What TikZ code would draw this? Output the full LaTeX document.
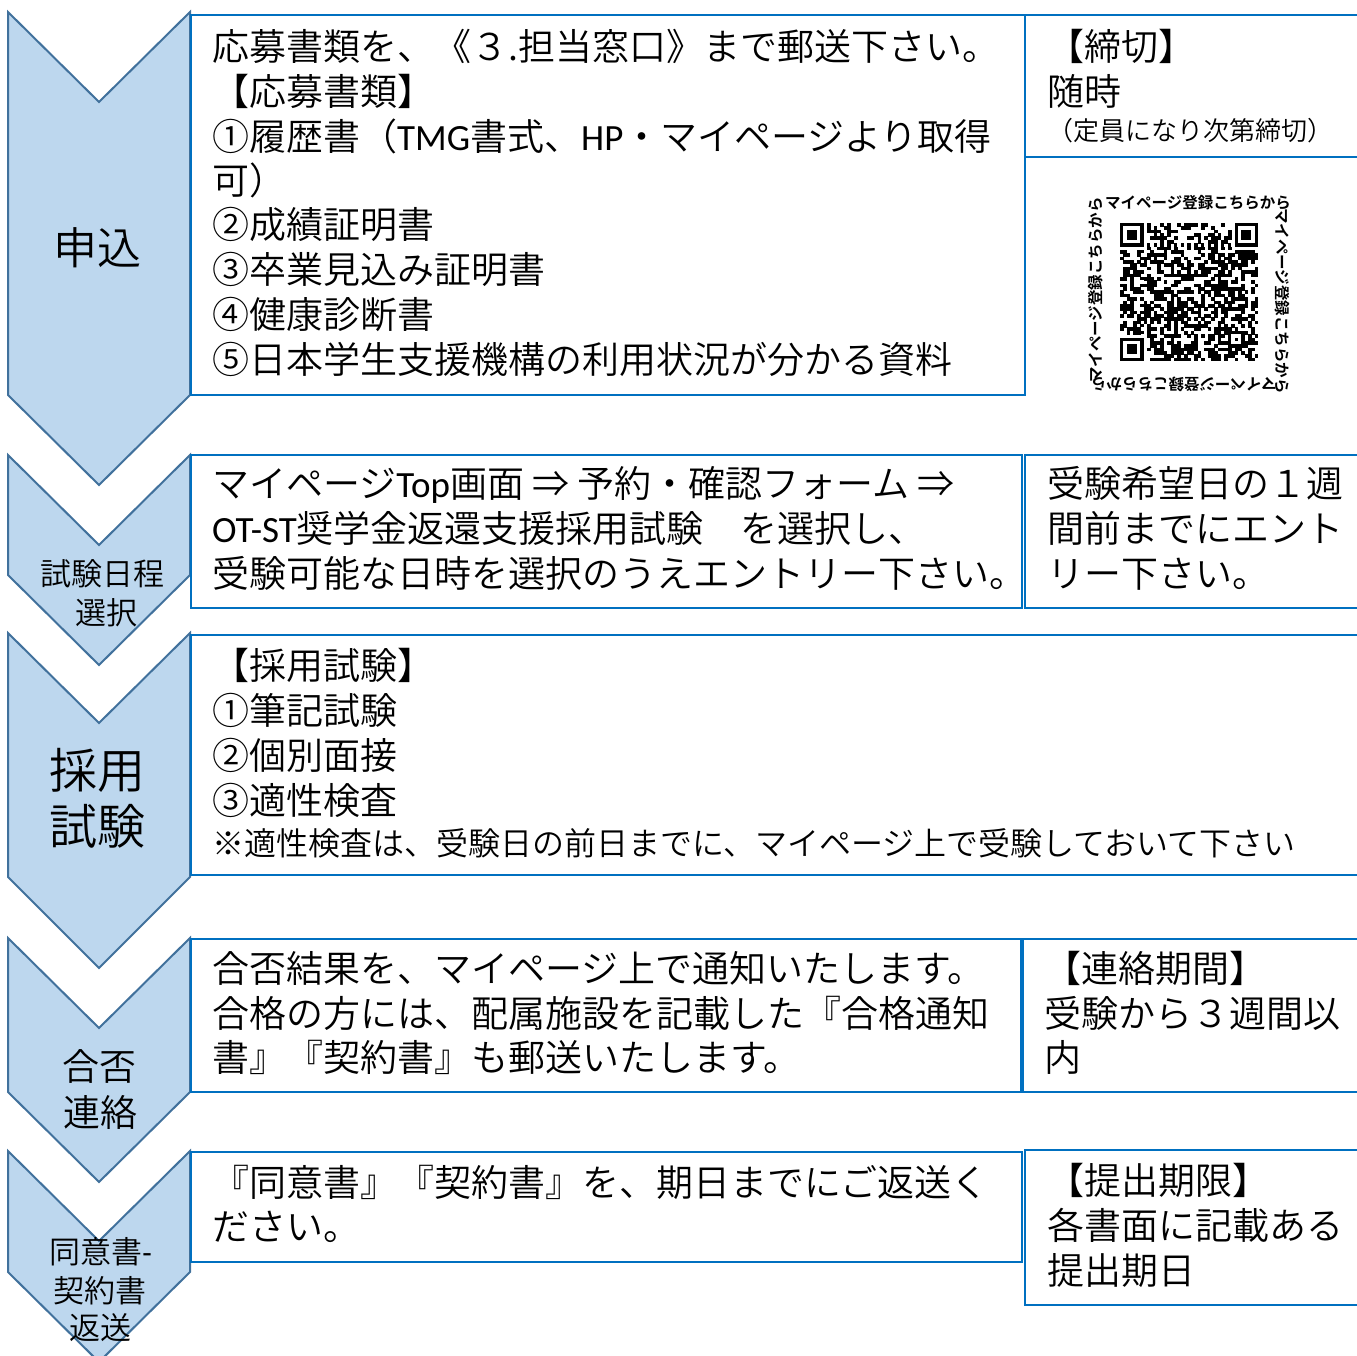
\documentclass[tikz,border=0pt]{standalone}
\usepackage{fontspec}
\setmainfont{Noto Sans CJK JP}[UprightFont={* DemiLight},BoldFont={* Bold}]
\newfontfamily\lat{Carlito}
\definecolor{chevfill}{HTML}{BDD7EE}
\definecolor{chevline}{HTML}{41719C}
\definecolor{boxline}{HTML}{0070C0}
\begin{document}
\begin{tikzpicture}[x=1pt,y=-1pt,
  chev/.style={fill=chevfill, draw=chevline, line width=2pt, line join=miter},
  frame/.style={draw=boxline, line width=2.2pt},
  body/.style={anchor=base west, inner sep=0pt, font=\fontsize{37}{40}\selectfont},
  small/.style={anchor=base west, inner sep=0pt, font=\fontsize{26}{30}\selectfont},
  note/.style={anchor=base west, inner sep=0pt, font=\fontsize{32}{36}\selectfont},
  lab/.style={anchor=base, inner sep=0pt},
  qrtxt/.style={inner sep=0pt, font=\bfseries\fontsize{15.5}{15.5}\selectfont},
]
\useasboundingbox (0,0) rectangle (1357,1355);
\fill[white] (0,0) rectangle (1357,1355);

% chevrons
\path[chev] (8,12) -- (99,102) -- (190,12) -- (190,395) -- (99,485) -- (8,395) -- cycle;
\path[chev] (8,455) -- (99,545) -- (190,455) -- (190,575) -- (99,665) -- (8,575) -- cycle;
\path[chev] (8,633) -- (99,723) -- (190,633) -- (190,877) -- (99,968) -- (8,877) -- cycle;
\path[chev] (8,938) -- (99,1028) -- (190,938) -- (190,1092) -- (99,1182) -- (8,1092) -- cycle;
\path[chev] (8,1151) -- (99,1241) -- (190,1151) -- (190,1272) -- (99,1362) -- (8,1272) -- cycle;

% boxes
\draw[frame] (191,15) rectangle (1025,395);
\draw[frame] (1025,15) rectangle (1375,157);
\draw[frame] (191,455) rectangle (1022,608);
\draw[frame] (1025,455) rectangle (1375,608);
\draw[frame] (191,635) rectangle (1375,875);
\draw[frame] (191,939) rectangle (1021,1092);
\draw[frame] (1023,939) rectangle (1375,1092);
\draw[frame] (191,1152) rectangle (1022,1262);
\draw[frame] (1025,1150) rectangle (1375,1305);

% chevron labels
\node[lab, font=\fontsize{44}{44}\selectfont] (l1) at (97,264) {申込};
\node[lab, font=\fontsize{31}{31}\selectfont] (l2a) at (102,585) {試験日程};
\node[lab, font=\fontsize{31}{31}\selectfont] (l2b) at (106,624) {選択};
\node[lab, font=\fontsize{48}{48}\selectfont] (l3a) at (97,788) {採用};
\node[lab, font=\fontsize{48}{48}\selectfont] (l3b) at (97,844) {試験};
\node[lab, font=\fontsize{37}{37}\selectfont] (l4a) at (99,1080) {合否};
\node[lab, font=\fontsize{37}{37}\selectfont] (l4b) at (100,1126) {連絡};
\node[lab, font=\fontsize{31}{31}\selectfont] (l5a) at (100.5,1263) {同意書{\lat -}};
\node[lab, font=\fontsize{31}{31}\selectfont] (l5b) at (100,1302) {契約書};
\node[lab, font=\fontsize{31}{31}\selectfont] (l5c) at (100,1339) {返送};

% box 1
\node[body] (b1a) at (212,60) {応募書類を、《３.担当窓口》まで郵送下さい。};
\node[body] (b1b) at (212,105) {【応募書類】};
\node[body] (b1c) at (212,150) {①履歴書（{\lat TMG}書式、{\lat HP}・マイページより取得};
\node[body] (b1d) at (212,194) {可）};
\node[body] (b1e) at (212,238) {②成績証明書};
\node[body] (b1f) at (212,283) {③卒業見込み証明書};
\node[body] (b1g) at (212,328) {④健康診断書};
\node[body] (b1h) at (212,373) {⑤日本学生支援機構の利用状況が分かる資料};

% deadline box
\node[body] (r1a) at (1047,60) {【締切】};
\node[body] (r1b) at (1047,105) {随時};
\node[small] (r1c) at (1047,140) {（定員になり次第締切）};

% QR code (pattern)
\def\m{3.37}
\pgfmathsetseed{7}
\foreach \i in {0,...,40}{
  \foreach \j in {0,...,40}{
    \pgfmathrandominteger{\r}{0}{1}
    \pgfmathtruncatemacro{\sk}{((\i<8)&&(\j<8))||((\i>32)&&(\j<8))||((\i<8)&&(\j>32))||(\i==6)||(\j==6)||((\i>31)&&(\i<37)&&(\j>31)&&(\j<37))}
    \ifnum\r=1 \ifnum\sk=0
      \fill (1120+\i*\m, 223+\j*\m) rectangle ++(\m+0.3,\m+0.3);
    \fi\fi
  }}
\foreach \k in {8,10,...,32}{
  \fill (1120+\k*\m, 223+6*\m) rectangle ++(\m,\m);
  \fill (1120+6*\m, 223+\k*\m) rectangle ++(\m,\m);
}
\foreach \a/\b in {0/0, 34/0, 0/34}{
  \fill (1120+\a*\m, 223+\b*\m) rectangle ++(7*\m, 7*\m);
  \fill[white] (1120+\a*\m+\m, 223+\b*\m+\m) rectangle ++(5*\m, 5*\m);
  \fill (1120+\a*\m+2*\m, 223+\b*\m+2*\m) rectangle ++(3*\m, 3*\m);
}
\fill (1120+32*\m, 223+32*\m) rectangle ++(5*\m, 5*\m);
\fill[white] (1120+33*\m, 223+33*\m) rectangle ++(3*\m, 3*\m);
\fill (1120+34*\m, 223+34*\m) rectangle ++(\m, \m);
\node[qrtxt] (qtop) at (1198,203) {マイページ登録こちらから};
\node[qrtxt, rotate=-90] (qright) at (1282,301) {マイページ登録こちらから};
\node[qrtxt, rotate=180] (qbot) at (1184,384) {マイページ登録こちらから};
\node[qrtxt, rotate=90] (qleft) at (1096,290) {マイページ登録こちらから};

% box 2
\node[body] (b2a) at (212,497) {マイページ{\lat Top}画面 ⇒ 予約・確認フォーム ⇒};
\node[body] (b2b) at (212,542) {{\lat OT-ST}奨学金返還支援採用試験　を選択し、};
\node[body] (b2c) at (212,587) {受験可能な日時を選択のうえエントリー下さい。};
\node[body] (r2a) at (1047,497) {受験希望日の１週};
\node[body] (r2b) at (1047,542) {間前までにエント};
\node[body] (r2c) at (1047,587) {リー下さい。};

% box 3
\node[body] (b3a) at (212,679) {【採用試験】};
\node[body] (b3b) at (212,724) {①筆記試験};
\node[body] (b3c) at (212,769) {②個別面接};
\node[body] (b3d) at (212,814) {③適性検査};
\node[note] (b3e) at (212,855) {※適性検査は、受験日の前日までに、マイページ上で受験しておいて下さい};

% box 4
\node[body] (b4a) at (212,982) {合否結果を、マイページ上で通知いたします。};
\node[body] (b4b) at (212,1027) {合格の方には、配属施設を記載した『合格通知};
\node[body] (b4c) at (212,1071) {書』『契約書』も郵送いたします。};
\node[body] (r4a) at (1044,982) {【連絡期間】};
\node[body] (r4b) at (1044,1027) {受験から３週間以};
\node[body] (r4c) at (1044,1071) {内};

% box 5
\node[body] (b5a) at (212,1196) {『同意書』『契約書』を、期日までにご返送く};
\node[body] (b5b) at (212,1240) {ださい。};
\node[body] (r5a) at (1047,1194) {【提出期限】};
\node[body] (r5b) at (1047,1239) {各書面に記載ある};
\node[body] (r5c) at (1047,1284) {提出期日};
\end{tikzpicture}
\end{document}
